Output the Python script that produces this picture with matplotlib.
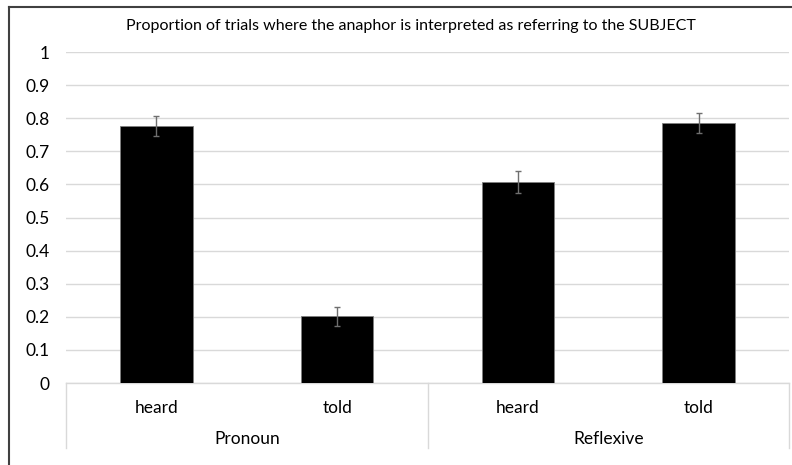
import matplotlib
matplotlib.use("Agg")
import matplotlib.pyplot as plt
from matplotlib.lines import Line2D
import matplotlib.transforms as mtransforms

verbs = ["heard", "told", "heard", "told"]
groups = ["Pronoun", "Reflexive"]
values = [0.776, 0.202, 0.606, 0.785]
errors = [0.030, 0.029, 0.033, 0.030]
yticks = [0, 0.1, 0.2, 0.3, 0.4, 0.5, 0.6, 0.7, 0.8, 0.9, 1]
ytick_labels = ["0", "0.1", "0.2", "0.3", "0.4", "0.5", "0.6", "0.7", "0.8", "0.9", "1"]
title = "Proportion of trials where the anaphor is interpreted as referring to the SUBJECT"

plt.rcParams['font.family'] = ['Lato', 'DejaVu Sans']

W, H = 792, 465
fig = plt.figure(figsize=(W / 100, H / 100), dpi=100)
ax = fig.add_axes([66 / W, 1 - 383 / H, (789 - 66) / W, (383 - 52) / H])

x = list(range(len(values)))
ax.bar(x, values, width=0.40, color="black", edgecolor="#7f7f7f", linewidth=0.6, zorder=3)
ax.errorbar(x, values, yerr=errors, fmt="none", ecolor="#6f6f6f", elinewidth=1.0,
            capsize=2.5, capthick=1.0, zorder=4)

ax.set_xlim(-0.5, 3.5)
ax.set_ylim(0, 1)
ax.set_yticks(yticks)
ax.set_yticklabels(ytick_labels, fontsize=12.5)
ax.tick_params(axis="y", length=0, pad=12)
ax.set_xticks([])
for s in ax.spines.values():
    s.set_visible(False)
ax.yaxis.grid(True, color="#d9d9d9", linewidth=1.0, zorder=0)
ax.set_axisbelow(True)

# multi-level category axis
trans = mtransforms.blended_transform_factory(ax.transData, ax.transAxes)
ax.plot([-0.5, 3.5], [0, 0], transform=trans, color="#d9d9d9", lw=1.0, clip_on=False, zorder=2)
ybot = -(448 - 383) / (383 - 52)
for xv in [-0.5, 1.5, 3.5]:
    ax.plot([xv, xv], [0, ybot], transform=trans, color="#d9d9d9", lw=1.0, clip_on=False)
ylab1 = -(408 - 383) / (383 - 52)
ylab2 = -(439 - 383) / (383 - 52)
for xi, v in zip(x, verbs):
    ax.text(xi, ylab1, v, transform=trans, ha="center", va="center", fontsize=12.5)
for gi, g in enumerate(groups):
    ax.text(gi * 2 + 0.5, ylab2, g, transform=trans, ha="center", va="center", fontsize=12.5)

fig.text(411 / W, 1 - 26 / H, title, ha="center", va="center", fontsize=11.5)

# partial outer border (top and left)
fig.add_artist(Line2D([9 / W, 1.0], [1 - 7.5 / H, 1 - 7.5 / H], color="#404040", lw=1.5))
fig.add_artist(Line2D([9 / W, 9 / W], [0, 1 - 7.5 / H], color="#404040", lw=1.5))

fig.savefig("out.png", dpi=100)
